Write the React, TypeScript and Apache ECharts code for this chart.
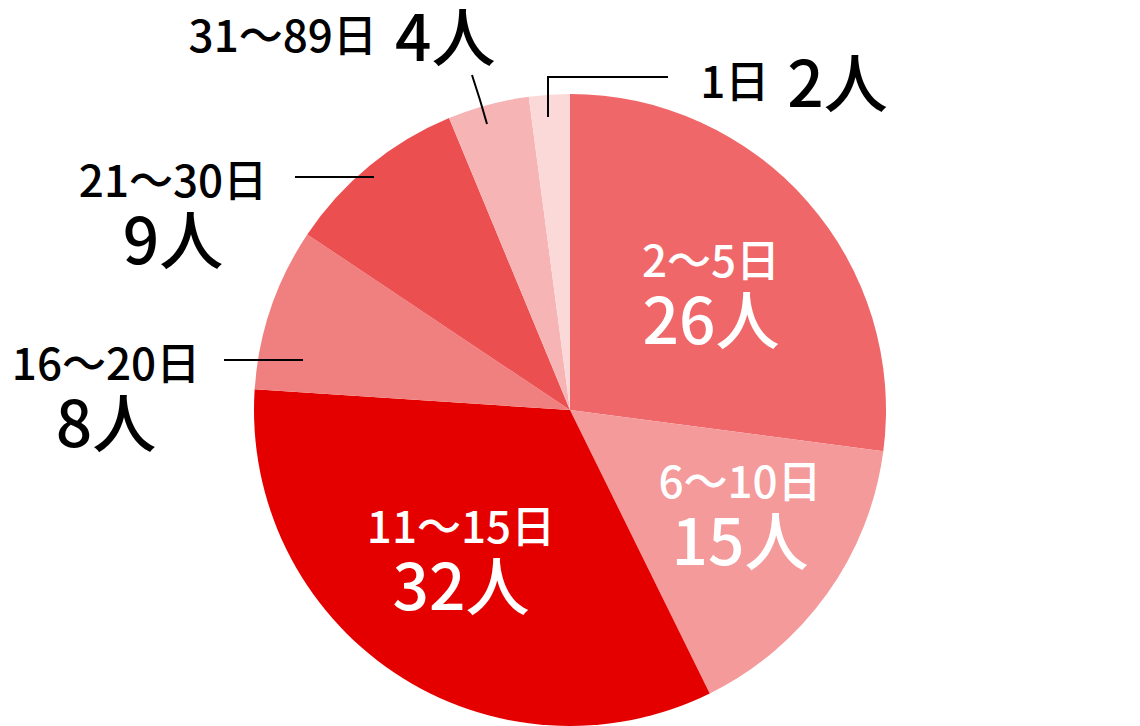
import React, { useEffect, useRef } from 'react';
import * as echarts from 'echarts';

// 日数区分と人数
const categories = ['2～5日', '6～10日', '11～15日', '16～20日', '21～30日', '31～89日', '1日'];
const counts = [26, 15, 32, 8, 9, 4, 2];
const sliceColors = ['#EF6769', '#F49A9A', '#E50000', '#F08080', '#EC4F50', '#F7B4B4', '#FBD9D9'];
// 内側に白文字で書く区分
const insideIdx = [0, 1, 2];
// 一行で書く区分
const oneLineIdx = [5, 6];

const FONT = '"Noto Sans CJK JP", "Noto Sans", sans-serif';

// ラベル位置（表示レイアウト用）
const labelPos: Record<number, { x: number; y: number; line?: number[][] }> = {
  0: { x: 711, y: 290 },
  1: { x: 740, y: 511 },
  2: { x: 461, y: 556 },
  3: { x: 106, y: 393, line: [[303, 360], [264, 360], [224, 360]] },
  4: { x: 173, y: 210, line: [[374, 177], [335, 177], [295, 177]] },
  5: { x: 342, y: 33, line: [[487, 124], [480, 100], [472, 75]] },
  6: { x: 794, y: 79, line: [[548, 117], [548, 77], [668, 77]] },
};

const App: React.FC = () => {
  const chartRef = useRef<HTMLDivElement>(null);

  useEffect(() => {
    document.body.style.margin = '0';
    if (!chartRef.current) return;
    const chart = echarts.init(chartRef.current, undefined, { renderer: 'svg' });

    // 扇形だけ
    const sliceData = categories.map((name, i) => ({
      name,
      value: counts[i],
      itemStyle: { color: sliceColors[i] },
    }));

    // ラベルと引き出し線（扇形の上に重ねる）
    const labelData = categories.map((name, i) => {
      const inside = insideIdx.includes(i);
      const oneLine = oneLineIdx.includes(i);
      const color = inside ? '#ffffff' : '#000000';
      return {
        name,
        value: counts[i],
        itemStyle: { color: 'rgba(0,0,0,0)' },
        label: {
          position: inside ? 'inside' : 'outside',
          formatter: oneLine ? '{a|{b}}{b|{c}人}' : '{a|{b}}\n{b|{c}人}',
          rich: {
            a: { fontSize: 44, lineHeight: 52, color, fontFamily: FONT, fontWeight: 500 },
            b: {
              fontSize: 64,
              lineHeight: oneLine ? 56 : 64,
              color,
              fontFamily: FONT,
              fontWeight: 500,
              padding: oneLine ? [0, 0, 0, 18] : 0,
            },
          },
        },
        labelLine: { show: !inside },
      };
    });

    const common = {
      type: 'pie',
      center: [570, 410],
      radius: 316,
      startAngle: 90,
      clockwise: true,
      avoidLabelOverlap: false,
      emphasis: { disabled: true },
      silent: true,
    };

    chart.setOption({
      animation: false,
      backgroundColor: '#ffffff',
      series: [
        {
          ...common,
          z: 1,
          label: { show: false },
          labelLine: { show: false },
          data: sliceData,
        },
        {
          ...common,
          z: 5,
          label: { show: true, fontFamily: FONT },
          labelLine: { showAbove: true, lineStyle: { color: '#000000', width: 2 }, smooth: false },
          labelLayout: (params: any) => {
            const p = labelPos[params.dataIndex];
            const out: any = { x: p.x, y: p.y, align: 'center', verticalAlign: 'middle' };
            if (p.line) out.labelLinePoints = p.line;
            return out;
          },
          data: labelData,
        },
      ],
    });

    return () => chart.dispose();
  }, []);

  return <div ref={chartRef} style={{ width: 1140, height: 726 }} />;
};

export default App;
